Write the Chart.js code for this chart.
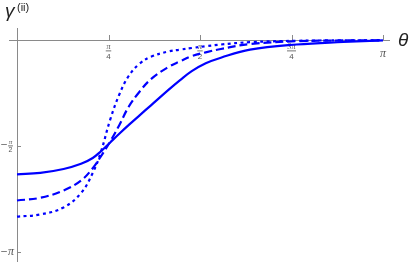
<!DOCTYPE html>
<html>
<head>
<meta charset="utf-8">
<script src="https://cdn.jsdelivr.net/npm/chart.js@4.4.1/dist/chart.umd.min.js"></script>
<style>
html, body { margin: 0; padding: 0; background: #fff; }
#wrap { width: 409px; height: 264px; }
</style>
</head>
<body>
<div id="wrap"><canvas id="chart"></canvas></div>
<script>
// theta samples (x) and gamma^(ii) values
var thetas = [0, 0.2, 0.4, 0.55, 0.65, 0.72, 0.8, 0.88, 0.96, 1.05, 1.15, 1.3, 1.4, 1.5, 1.62, 1.75, 2.0, 2.4, 2.8, 3.1416];
var solidVals  = [-1.99, -1.97, -1.912, -1.835, -1.748, -1.65, -1.518, -1.386, -1.258, -1.12, -0.968, -0.74, -0.595, -0.462, -0.345, -0.262, -0.143, -0.067, -0.03, -0.007];
var dashedVals = [-2.378, -2.338, -2.23, -2.081, -1.9, -1.725, -1.504, -1.255, -0.985, -0.77, -0.58, -0.4, -0.316, -0.24, -0.183, -0.133, -0.06, -0.018, -0.007, -0.004];
var dottedVals = [-2.618, -2.585, -2.481, -2.267, -1.97, -1.66, -1.18, -0.8, -0.53, -0.355, -0.248, -0.17, -0.143, -0.119, -0.092, -0.067, -0.032, -0.012, -0.005, -0.003];

var xTickValues = [Math.PI / 4, Math.PI / 2, 3 * Math.PI / 4, Math.PI];
var xTickLabels = [['\u03c0', '4'], ['\u03c0', '2'], ['3\u03c0', '4'], ['\u03c0']];
var yTickValues = [-Math.PI / 2, -Math.PI];
var yTickLabels = [['\u03c0', '2'], ['\u03c0']];

function pts(vals) {
    return thetas.map(function (t, i) { return { x: t, y: vals[i] }; });
}

var axisColor = '#8a8a8a';
var labelColor = '#555';

function drawFrac(ctx, x, yNum, yBar, yDen, num, den, size) {
    ctx.textAlign = 'center';
    ctx.textBaseline = 'middle';
    ctx.font = 'italic ' + size + 'px "Liberation Serif"';
    ctx.fillText(num, x, yNum);
    var w = ctx.measureText(num).width;
    ctx.font = size + 'px "Liberation Sans"';
    w = Math.max(w, ctx.measureText(den).width) + 1;
    ctx.fillRect(x - w / 2, yBar, w, 0.8);
    ctx.fillText(den, x, yDen);
}

var axesPlugin = {
    id: 'mathAxes',
    beforeDatasetsDraw: function (chart) {
        var ctx = chart.ctx;
        var xs = chart.scales.x, ys = chart.scales.y;
        var x0 = xs.getPixelForValue(0), y0 = ys.getPixelForValue(0);
        ctx.save();
        ctx.strokeStyle = axisColor;
        ctx.lineWidth = 1;
        ctx.beginPath();
        ctx.moveTo(9, y0 + 0.5);
        ctx.lineTo(390, y0 + 0.5);
        ctx.moveTo(x0 + 0.5, 28);
        ctx.lineTo(x0 + 0.5, 262);
        xTickValues.forEach(function (v) {
            var px = Math.round(xs.getPixelForValue(v)) + 0.5;
            ctx.moveTo(px, y0);
            ctx.lineTo(px, y0 - 5);
        });
        yTickValues.forEach(function (v) {
            var py = Math.round(ys.getPixelForValue(v)) + 0.5;
            ctx.moveTo(x0, py);
            ctx.lineTo(x0 + 4, py);
        });
        ctx.stroke();

        ctx.fillStyle = labelColor;
        xTickValues.forEach(function (v, i) {
            var px = xs.getPixelForValue(v);
            var lab = xTickLabels[i];
            if (lab.length === 2) {
                drawFrac(ctx, px, y0 + 7, y0 + 10.5, y0 + 17, lab[0], lab[1], 8);
            } else {
                ctx.font = 'italic 12px "Liberation Serif"';
                ctx.textAlign = 'center';
                ctx.textBaseline = 'middle';
                ctx.fillText(lab[0], px, y0 + 14);
            }
        });
        yTickValues.forEach(function (v, i) {
            var py = ys.getPixelForValue(v);
            var lab = yTickLabels[i];
            ctx.font = '9px "DejaVu Sans"';
            ctx.textAlign = 'center';
            ctx.textBaseline = 'middle';
            if (lab.length === 2) {
                ctx.fillText('\u2212', 4, py - 1);
                drawFrac(ctx, 10.5, py - 3.5, py - 0.5, py + 4.5, lab[0], lab[1], 7);
            } else {
                ctx.fillText('\u2212', 4, py);
                ctx.font = 'italic 12px "Liberation Serif"';
                ctx.fillText(lab[0], 11, py);
            }
        });

        // axis titles
        ctx.fillStyle = '#222';
        ctx.textAlign = 'left';
        ctx.textBaseline = 'alphabetic';
        ctx.font = 'italic 19px "Liberation Sans"';
        ctx.fillText('\u03b3', 5, 17);
        ctx.font = '11px "Liberation Sans"';
        ctx.fillText('(ii)', 17, 11);
        ctx.font = 'italic 19px "Liberation Sans"';
        ctx.fillText('\u03b8', 398, 46);
        ctx.restore();
    }
};

function series(vals, dash) {
    return {
        data: pts(vals),
        borderColor: '#0000ff',
        borderWidth: 2.2,
        borderDash: dash,
        borderCapStyle: 'butt',
        pointRadius: 0,
        tension: 0.4,
        fill: false,
        clip: false
    };
}

new Chart(document.getElementById('chart').getContext('2d'), {
    type: 'line',
    data: {
        datasets: [
            series(solidVals, []),
            series(dashedVals, [8, 4]),
            series(dottedVals, [3, 3.5])
        ]
    },
    options: {
        responsive: true,
        maintainAspectRatio: false,
        animation: false,
        layout: { padding: { left: 17, right: 26, top: 40, bottom: 12 } },
        plugins: { legend: { display: false }, tooltip: { enabled: false } },
        scales: {
            x: { type: 'linear', min: 0, max: Math.PI, display: false },
            y: { type: 'linear', min: -Math.PI, max: 0, display: false }
        }
    },
    plugins: [axesPlugin]
});
</script>
</body>
</html>
